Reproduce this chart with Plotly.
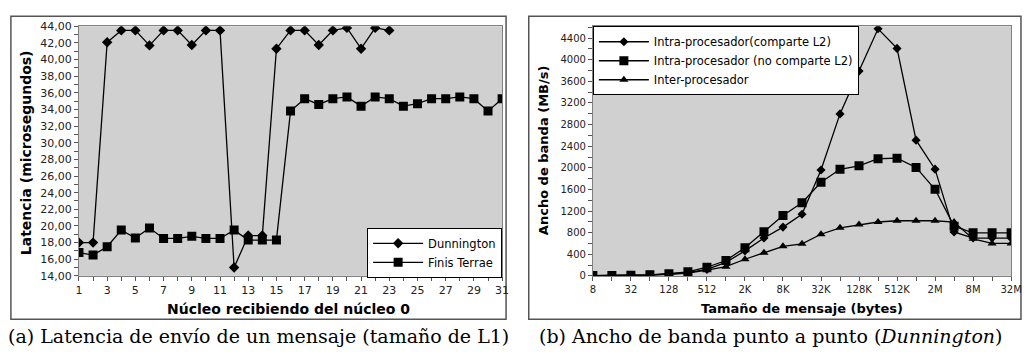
import plotly.graph_objects as go

# ---------------- data: left chart ----------------
cores_dunnington = [1, 2, 3, 4, 5, 6, 7, 8, 9, 10, 11, 12, 13, 14, 15, 16, 17, 18, 19, 20, 21, 22, 23]
lat_dunnington = [18.0, 18.0, 42.07, 43.5, 43.5, 41.7, 43.5, 43.5, 41.75, 43.5, 43.5, 15.0,
                  18.85, 18.85, 41.3, 43.5, 43.5, 41.75, 43.5, 43.8, 41.3, 43.8, 43.5]
cores_finis = [1, 2, 3, 4, 5, 6, 7, 8, 9, 10, 11, 12, 13, 14, 15, 16, 17, 18, 19, 20,
               21, 22, 23, 24, 25, 26, 27, 28, 29, 30, 31]
lat_finis = [16.8, 16.5, 17.5, 19.5, 18.55, 19.75, 18.5, 18.5, 18.75, 18.5, 18.5, 19.5,
             18.3, 18.3, 18.3, 33.8, 35.3, 34.6, 35.3, 35.5, 34.4, 35.5, 35.3, 34.4,
             34.7, 35.3, 35.3, 35.5, 35.3, 33.8, 35.3]
left_x_ticks = list(range(1, 32))
left_x_text = ["1", "", "3", "", "5", "", "7", "", "9", "", "11", "", "13", "", "15", "",
               "17", "", "19", "", "21", "", "23", "", "25", "", "27", "", "29", "", "31"]
left_y_ticks = list(range(14, 45))
left_y_text = ["14,00", "", "16,00", "", "18,00", "", "20,00", "", "22,00", "", "24,00", "",
               "26,00", "", "28,00", "", "30,00", "", "32,00", "", "34,00", "", "36,00", "",
               "38,00", "", "40,00", "", "42,00", "", "44,00"]

# ---------------- data: right chart ----------------
msg_sizes = [8, 16, 32, 64, 128, 256, 512, 1024, 2048, 4096, 8192, 16384, 32768, 65536,
             131072, 262144, 524288, 1048576, 2097152, 4194304, 8388608, 16777216, 33554432]
bw_share = [3, 6, 10, 18, 35, 60, 120, 250, 463, 700, 903, 1140, 1960, 2998, 3790, 4573,
            4210, 2512, 1975, 814, 700, 700, 700]
bw_noshare = [5, 8, 12, 20, 40, 75, 160, 285, 522, 819, 1117, 1354, 1733, 1972, 2036, 2168,
              2178, 2007, 1603, 920, 796, 796, 796]
bw_inter = [3, 5, 9, 15, 30, 50, 105, 170, 308, 427, 547, 593, 771, 890, 950, 997, 1020,
            1020, 1020, 997, 685, 600, 600]
right_x_text = ["8", "", "32", "", "128", "", "512", "", "2K", "", "8K", "", "32K", "",
                "128K", "", "512K", "", "2M", "", "8M", "", "32M"]
right_y_ticks = [0, 200, 400, 600, 800, 1000, 1200, 1400, 1600, 1800, 2000, 2200, 2400,
                 2600, 2800, 3000, 3200, 3400, 3600, 3800, 4000, 4200, 4400, 4600]
right_y_text = ["0", "", "400", "", "800", "", "1200", "", "1600", "", "2000", "", "2400",
                "", "2800", "", "3200", "", "3600", "", "4000", "", "4400", ""]

W, H = 1030, 360
def px(x):
    return x / W
def py(y):
    return 1 - y / H

LINE = dict(color="black", width=1.3)
fig = go.Figure()

fig.add_trace(go.Scatter(x=cores_dunnington, y=lat_dunnington, name="Dunnington",
                         mode="lines+markers", line=LINE,
                         marker=dict(symbol="diamond", size=8, color="black"),
                         xaxis="x", yaxis="y", legend="legend"))
fig.add_trace(go.Scatter(x=cores_finis, y=lat_finis, name="Finis Terrae",
                         mode="lines+markers", line=LINE,
                         marker=dict(symbol="square", size=9, color="black"),
                         xaxis="x", yaxis="y", legend="legend"))

fig.add_trace(go.Scatter(x=msg_sizes, y=bw_share, name="Intra-procesador(comparte L2)",
                         mode="lines+markers", line=LINE,
                         marker=dict(symbol="diamond", size=7, color="black"),
                         xaxis="x2", yaxis="y2", legend="legend2"))
fig.add_trace(go.Scatter(x=msg_sizes, y=bw_noshare, name="Intra-procesador (no comparte L2)",
                         mode="lines+markers", line=LINE,
                         marker=dict(symbol="square", size=9, color="black"),
                         xaxis="x2", yaxis="y2", legend="legend2"))
fig.add_trace(go.Scatter(x=msg_sizes, y=bw_inter, name="Inter-procesador",
                         mode="lines+markers", line=LINE,
                         marker=dict(symbol="triangle-up", size=8, color="black"),
                         xaxis="x2", yaxis="y2", legend="legend2"))

def axis_common(size):
    return dict(showgrid=False, zeroline=False, showline=True, mirror=True,
                linecolor="#808080", linewidth=1, ticks="outside", ticklen=4,
                tickcolor="#555", tickwidth=1, tickmode="array",
                tickfont=dict(family="DejaVu Sans", size=size, color="#222"))

ydom = [py(280), py(21)]
legend_font = dict(family="DejaVu Sans", size=11.5, color="black")
fig.update_layout(
    width=W, height=H, margin=dict(l=0, r=0, t=0, b=0),
    paper_bgcolor="white", plot_bgcolor="#d0d0d0",
    xaxis=dict(domain=[px(77), px(506)], range=[1, 31], tickvals=left_x_ticks,
               ticktext=left_x_text, anchor="y", **axis_common(11)),
    yaxis=dict(domain=ydom, range=[14, 44], tickvals=left_y_ticks,
               ticktext=left_y_text, anchor="x", **axis_common(11)),
    xaxis2=dict(domain=[px(598), px(1022)], type="log", range=[0.90309, 7.52578],
                tickvals=msg_sizes, ticktext=right_x_text, anchor="y2", **axis_common(10)),
    yaxis2=dict(domain=ydom, range=[0, 4620], tickvals=right_y_ticks,
                ticktext=right_y_text, anchor="x2", **axis_common(10)),
    legend=dict(x=px(506), xanchor="right", y=py(282), yanchor="bottom",
                bgcolor="white", bordercolor="black", borderwidth=1,
                font=legend_font, itemwidth=50, tracegroupgap=0),
    legend2=dict(x=px(598), xanchor="left", y=py(21), yanchor="top",
                 bgcolor="white", bordercolor="black", borderwidth=1,
                 font=legend_font, itemwidth=50, tracegroupgap=0),
    showlegend=True,
)

# panel boxes
fig.add_shape(type="rect", xref="paper", yref="paper", x0=px(8), x1=px(510),
              y0=py(325), y1=py(10.7), line=dict(color="#555", width=1.5), layer="below")
fig.add_shape(type="rect", xref="paper", yref="paper", x0=px(533), x1=px(1032),
              y0=py(325), y1=py(10.7), line=dict(color="#555", width=1.5), layer="below")

def note(text, x, y, font, angle=0):
    fig.add_annotation(text=text, xref="paper", yref="paper", x=px(x), y=py(y),
                       xanchor="center", yanchor="middle", textangle=angle,
                       showarrow=False, font=font)

left_title = dict(family="DejaVu Sans", size=14, color="black")
right_title = dict(family="DejaVu Sans", size=13, color="black")
note("<b>Latencia (microsegundos)</b>", 23, 152, left_title, -90)
note("<b>Núcleo recibiendo del núcleo 0</b>", 289, 314, left_title)
note("<b>Ancho de banda (MB/s)</b>", 548, 150, right_title, -90)
note("<b>Tamaño de mensaje (bytes)</b>", 810, 314, right_title)

cap_font = dict(family="DejaVu Serif", size=19, color="black")
note("(a) Latencia de envío de un mensaje (tamaño de L1)", 259, 342, cap_font)
note("(b) Ancho de banda punto a punto (<i>Dunnington</i>)", 778, 342, cap_font)

fig.write_html("out.html")
